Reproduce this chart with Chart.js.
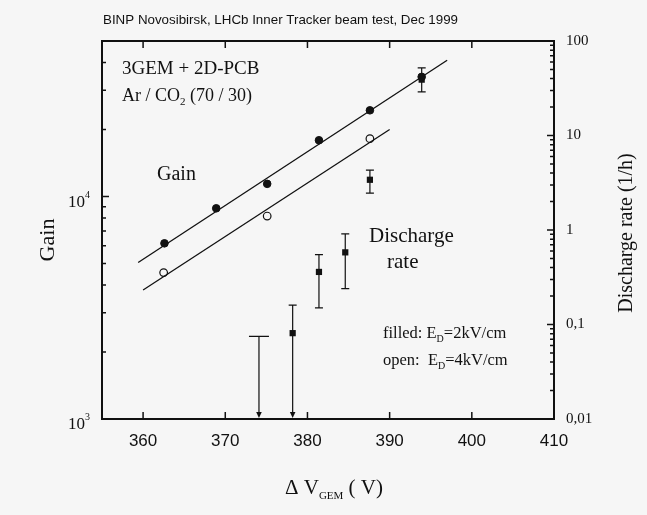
<!DOCTYPE html>
<html>
<head>
<meta charset="utf-8">
<script src="https://cdn.jsdelivr.net/npm/chart.js@4.4.1/dist/chart.umd.min.js"></script>
<style>
  html, body { margin: 0; padding: 0; background: #f6f6f6; }
  #gemChart { display: block; }
</style>
</head>
<body>
<canvas id="gemChart" width="647" height="515"></canvas>
<script>
// values
var xTicks = [360, 370, 380, 390, 400, 410];
var gainTicks = [1000, 10000];
var rateTicks = [0.01, 0.1, 1, 10, 100];

// gain, E_D = 2 kV/cm (filled circles)
var filledV = [362.6, 368.9, 375.1, 381.4, 387.6, 393.9];
var filledGain = [6160, 8850, 11400, 17900, 24400, 34500];

// gain, E_D = 4 kV/cm (open circles)
var openV = [362.5, 375.1, 387.6];
var openGain = [4550, 8170, 18200];

// fitted lines (end points)
var fitFilledV = [359.4, 397];
var fitFilledGain = [5050, 41000];
var fitOpenV = [360, 390];
var fitOpenGain = [3800, 20000];

// discharge rate (squares) with error bars
var rateV = [381.4, 384.6, 387.6, 393.9];
var rate = [0.36, 0.58, 3.4, 39];
var rateLo = [0.15, 0.24, 2.45, 29];
var rateHi = [0.55, 0.91, 4.3, 52];

// upper limits (arrows down to the axis)
var limitV = [374.1, 378.2];
var limitRate = [0.075, 0.16];
var limitPoint = [null, 0.081];

var ink = '#111111';
var serif = '"Liberation Serif", "Times New Roman", serif';
var sans = '"Liberation Sans", Arial, sans-serif';

function pts(xs, ys) {
	return xs.map(function(v, i) { return { x: v, y: ys[i] }; });
}

function drawRuns(ctx, x, y, parts, family) {
	parts.forEach(function(p) {
		ctx.font = p.s + 'px ' + family;
		ctx.fillText(p.t, x, y + (p.dy || 0));
		x += ctx.measureText(p.t).width;
	});
}

function runsWidth(ctx, parts, family) {
	var w = 0;
	parts.forEach(function(p) {
		ctx.font = p.s + 'px ' + family;
		w += ctx.measureText(p.t).width;
	});
	return w;
}

var decorPlugin = {
	id: 'decor',
	beforeDraw: function(chart) {
		var ctx = chart.ctx;
		ctx.save();
		ctx.fillStyle = '#f6f6f6';
		ctx.fillRect(0, 0, chart.width, chart.height);
		ctx.restore();
	},
	beforeDatasetsDraw: function(chart) {
		var ctx = chart.ctx, x = chart.scales.x, yr = chart.scales.yRate;
		var area = chart.chartArea;
		ctx.save();
		ctx.strokeStyle = ink;
		ctx.fillStyle = ink;
		ctx.lineWidth = 1.2;
		// error bars
		rateV.forEach(function(v, i) {
			var px = x.getPixelForValue(v);
			var top = yr.getPixelForValue(rateHi[i]), bot = yr.getPixelForValue(rateLo[i]);
			ctx.beginPath();
			ctx.moveTo(px, top); ctx.lineTo(px, bot);
			ctx.moveTo(px - 4, top); ctx.lineTo(px + 4, top);
			ctx.moveTo(px - 4, bot); ctx.lineTo(px + 4, bot);
			ctx.stroke();
		});
		// upper limits
		limitV.forEach(function(v, i) {
			var px = x.getPixelForValue(v);
			var top = yr.getPixelForValue(limitRate[i]);
			var half = limitPoint[i] === null ? 10 : 4;
			ctx.beginPath();
			ctx.moveTo(px - half, top); ctx.lineTo(px + half, top);
			ctx.moveTo(px, top); ctx.lineTo(px, area.bottom - 5);
			ctx.stroke();
			ctx.beginPath();
			ctx.moveTo(px - 2.8, area.bottom - 7);
			ctx.lineTo(px + 2.8, area.bottom - 7);
			ctx.lineTo(px, area.bottom - 1);
			ctx.closePath();
			ctx.fill();
		});
		ctx.restore();
	},
	afterDraw: function(chart) {
		var ctx = chart.ctx, area = chart.chartArea;
		var x = chart.scales.x, yg = chart.scales.yGain, yr = chart.scales.yRate;
		ctx.save();
		ctx.strokeStyle = ink;
		ctx.fillStyle = ink;

		// frame
		ctx.lineWidth = 2;
		ctx.strokeRect(area.left, area.top, area.right - area.left, area.bottom - area.top);

		// inward ticks
		ctx.lineWidth = 1.5;
		ctx.beginPath();
		xTicks.forEach(function(v) {
			var px = x.getPixelForValue(v);
			ctx.moveTo(px, area.bottom); ctx.lineTo(px, area.bottom - 7);
			ctx.moveTo(px, area.top); ctx.lineTo(px, area.top + 7);
		});
		gainTicks.forEach(function(d) {
			for (var m = 1; m <= 9; m++) {
				var v = d * m;
				if (v > yg.max) break;
				var py = yg.getPixelForValue(v);
				ctx.moveTo(area.left, py); ctx.lineTo(area.left + (m === 1 ? 7 : 4), py);
			}
		});
		rateTicks.forEach(function(d) {
			for (var m = 1; m <= 9; m++) {
				var v = d * m;
				if (v > yr.max * 1.0001) break;
				var py = yr.getPixelForValue(v);
				ctx.moveTo(area.right, py); ctx.lineTo(area.right - (m === 1 ? 7 : 4), py);
			}
		});
		ctx.stroke();

		// left tick labels 10^n
		ctx.textBaseline = 'alphabetic';
		ctx.textAlign = 'left';
		gainTicks.forEach(function(v) {
			var py = yg.getPixelForValue(v);
			var exp = String(Math.round(Math.log10(v)));
			drawRuns(ctx, 68, py + 10, [{ t: '10', s: 17 }, { t: exp, s: 10, dy: -9 }], serif);
		});

		// title
		ctx.font = '13px "Liberation Sans Narrow", ' + sans;
		var title = 'BINP Novosibirsk, LHCb Inner Tracker beam test, Dec 1999';
		var tw = ctx.measureText(title).width;
		ctx.save();
		ctx.translate(103, 24);
		ctx.scale(355 / tw, 1);
		ctx.fillText(title, 0, 0);
		ctx.restore();

		// annotations in the plot
		drawRuns(ctx, 122, 74, [{ t: '3GEM + 2D-PCB', s: 19 }], serif);
		drawRuns(ctx, 122, 101, [{ t: 'Ar / CO', s: 18 }, { t: '2', s: 11, dy: 4 }, { t: ' (70 / 30)', s: 18 }], serif);
		drawRuns(ctx, 157, 180, [{ t: 'Gain', s: 20 }], serif);
		drawRuns(ctx, 369, 242, [{ t: 'Discharge', s: 21 }], serif);
		drawRuns(ctx, 387, 268, [{ t: 'rate', s: 21 }], serif);
		drawRuns(ctx, 383, 338, [{ t: 'filled: E', s: 16.5 }, { t: 'D', s: 10, dy: 4 }, { t: '=2kV/cm', s: 16.5 }], serif);
		drawRuns(ctx, 383, 365, [{ t: 'open:  E', s: 16.5 }, { t: 'D', s: 10, dy: 4 }, { t: '=4kV/cm', s: 16.5 }], serif);

		// x axis title
		var xt = [{ t: '\u0394 V', s: 21 }, { t: 'GEM', s: 11, dy: 5 }, { t: ' ( V)', s: 21 }];
		drawRuns(ctx, 334 - runsWidth(ctx, xt, serif) / 2, 494, xt, serif);

		// rotated y titles
		ctx.textAlign = 'center';
		ctx.textBaseline = 'middle';
		ctx.save();
		ctx.translate(48, 240);
		ctx.rotate(-Math.PI / 2);
		ctx.font = '22px ' + serif;
		ctx.fillText('Gain', 0, 0);
		ctx.restore();
		ctx.save();
		ctx.translate(627, 233);
		ctx.rotate(-Math.PI / 2);
		ctx.font = '20px ' + serif;
		ctx.fillText('Discharge rate (1/h)', 0, 0);
		ctx.restore();

		ctx.restore();
	}
};

var ctx = document.getElementById('gemChart').getContext('2d');
var gemChart = new Chart(ctx, {
	type: 'scatter',
	data: {
		datasets: [
			{
				label: 'fit 2kV/cm',
				data: pts(fitFilledV, fitFilledGain),
				yAxisID: 'yGain',
				showLine: true,
				borderColor: ink,
				borderWidth: 1.3,
				pointRadius: 0
			},
			{
				label: 'fit 4kV/cm',
				data: pts(fitOpenV, fitOpenGain),
				yAxisID: 'yGain',
				showLine: true,
				borderColor: ink,
				borderWidth: 1.3,
				pointRadius: 0
			},
			{
				label: 'discharge rate',
				data: pts(rateV.concat([limitV[1]]), rate.concat([limitPoint[1]])),
				yAxisID: 'yRate',
				pointStyle: 'rect',
				pointRadius: 4.4,
				backgroundColor: ink,
				borderColor: ink,
				borderWidth: 0
			},
			{
				label: 'gain filled',
				data: pts(filledV, filledGain),
				yAxisID: 'yGain',
				pointStyle: 'circle',
				pointRadius: 3.8,
				backgroundColor: ink,
				borderColor: ink,
				borderWidth: 1
			},
			{
				label: 'gain open',
				data: pts(openV, openGain),
				yAxisID: 'yGain',
				pointStyle: 'circle',
				pointRadius: 3.8,
				backgroundColor: '#f6f6f6',
				borderColor: ink,
				borderWidth: 1.2
			}
		]
	},
	options: {
		responsive: false,
		animation: false,
		layout: { padding: { top: 41, left: 0, right: 0, bottom: 0 } },
		plugins: {
			legend: false,
			tooltip: { enabled: false }
		},
		scales: {
			x: {
				type: 'linear',
				position: 'bottom',
				min: 355,
				max: 410,
				afterBuildTicks: function(scale) {
					scale.ticks = xTicks.map(function(v) { return { value: v }; });
				},
				afterFit: function(scale) { scale.height = 96; },
				grid: { display: false, drawTicks: false },
				border: { display: false },
				ticks: {
					color: ink,
					padding: 12,
					maxRotation: 0,
					font: { family: sans, size: 17 }
				}
			},
			yGain: {
				type: 'logarithmic',
				position: 'left',
				min: 1000,
				max: 50000,
				afterBuildTicks: function(scale) {
					scale.ticks = gainTicks.map(function(v) { return { value: v }; });
				},
				afterFit: function(scale) { scale.width = 102; },
				grid: { display: false, drawTicks: false },
				border: { display: false },
				ticks: { display: false }
			},
			yRate: {
				type: 'logarithmic',
				position: 'right',
				min: 0.01,
				max: 100,
				afterBuildTicks: function(scale) {
					scale.ticks = rateTicks.map(function(v) { return { value: v }; });
				},
				afterFit: function(scale) { scale.width = 93; },
				grid: { display: false, drawTicks: false },
				border: { display: false },
				ticks: {
					color: ink,
					padding: 12,
					font: { family: serif, size: 15 },
					callback: function(v) { return String(v).replace('.', ','); }
				}
			}
		}
	},
	plugins: [decorPlugin]
});
</script>
</body>
</html>
